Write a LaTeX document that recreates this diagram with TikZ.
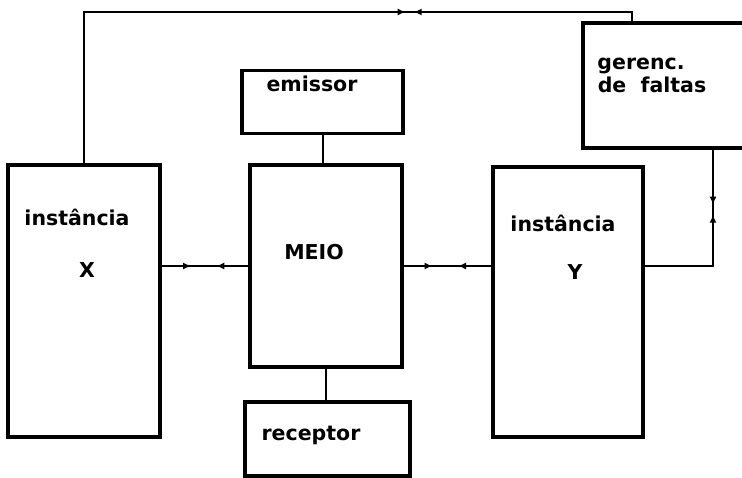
\documentclass[tikz,border=0pt]{standalone}
\usepackage{fontspec}
\setmainfont{DejaVu Sans}
\usetikzlibrary{arrows.meta,decorations.markings}
\tikzset{
  >={Latex[length=8pt,width=7pt]},
  blk/.style={draw,line width=3.4pt,minimum width=#1,inner sep=0pt},
  lbl/.style={font=\fontsize{20.5}{24}\selectfont\bfseries,inner sep=0pt,anchor=base},
  wire/.style={line width=2pt},
  % two small tips facing each other on a wire
  meet/.style 2 args={wire,postaction={decorate},decoration={markings,
    mark=at position #1 with {\arrow{>}},
    mark=at position #2 with {\arrowreversed{>}}}},
}

\begin{document}
\begin{tikzpicture}[x=1pt,y=-1pt]
  \useasboundingbox (0,0) rectangle (742,478);
  % blocks
  \node[blk=152pt,minimum height=272pt] (X) at (84,301) {};
  \node[blk=152pt,minimum height=202pt] (M) at (326,266) {};
  \node[blk=150pt,minimum height=270pt] (Y) at (568,302) {};
  \node[blk=161pt,minimum height=63pt] (E) at (322.5,102) {};
  \node[blk=165pt,minimum height=74pt] (R) at (327.5,439) {};
  \node[blk=170pt,minimum height=125pt] (G) at (668,85.5) {};
  % texts
  \node[lbl] (xt) at (77,226) {instância};
  \node[lbl] (xn) at (87,278) {X};
  \node[lbl] (mt) at (314,260) {MEIO};
  \node[lbl] (yt) at (563,232) {instância};
  \node[lbl] (yn) at (575,280) {Y};
  \node[lbl] (et) at (312,92) {emissor};
  \node[lbl] (rt) at (311,440) {receptor};
  \node[lbl] (gt) at (641,70) {gerenc.};
  \node[lbl] (gd) at (652,93) {de\ \ faltas};
  % junctions
  \coordinate (tr) at (632,12);
  \coordinate (jy) at (713,266);
  % wires
  \draw[wire] (E.south) -- (E.south |- M.north);
  \draw[wire] (M.south) -- (M.south |- R.north);
  \draw[meet={0.34}{0.63}] (X.east |- M.west) -- (M.west);
  \draw[meet={0.33}{0.62}] (M.east) -- (M.east -| Y.west);
  \draw[meet={473pt}{481pt}] (X.north) -- (X.north |- tr) -- (tr) -- (G.north -| tr);
  \draw[meet={55pt}{65pt}] (G.south -| jy) -- (jy) -- (Y.east |- jy);
\end{tikzpicture}
\end{document}
